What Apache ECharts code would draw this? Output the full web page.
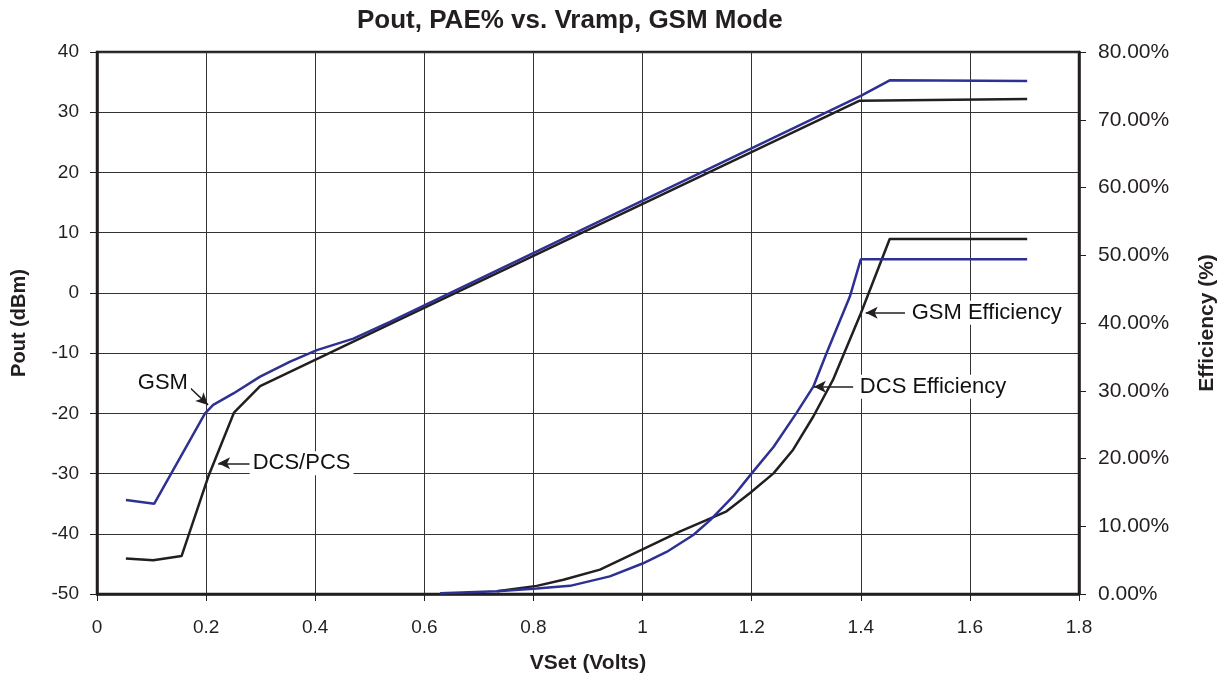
<!DOCTYPE html>
<html>
<head>
<meta charset="utf-8">
<script src="https://cdn.jsdelivr.net/npm/echarts@6/dist/echarts.min.js"></script>
<style>html,body{margin:0;padding:0;background:#fff}#c{width:1230px;height:682px}</style>
</head>
<body>
<div id="c"></div>
<script>
// Pout (dBm) vs VSet
const gsmPoutX = [0.053, 0.105, 0.198, 0.213, 0.25, 0.299, 0.354, 0.403, 0.47, 0.537, 1.4, 1.453, 1.705];
const gsmPoutY = [-34.4, -35.0, -20.0, -18.6, -16.7, -13.9, -11.4, -9.5, -7.6, -4.8, 32.7, 35.3, 35.2];
const dcsPoutX = [0.053, 0.103, 0.155, 0.204, 0.251, 0.299, 0.537, 1.397, 1.705];
const dcsPoutY = [-44.1, -44.4, -43.7, -30.5, -19.9, -15.5, -5.2, 31.9, 32.2];
// Efficiency (%) vs VSet
const gsmEffX = [0.733, 0.806, 0.855, 0.922, 1.0, 1.068, 1.117, 1.154, 1.197, 1.24, 1.276, 1.313, 1.349, 1.40, 1.453, 1.705];
const gsmEffY = [0.4, 1.2, 2.1, 3.6, 6.6, 9.2, 10.9, 12.2, 14.9, 17.8, 21.3, 26.2, 31.6, 41.4, 52.4, 52.4];
const dcsEffX = [0.629, 0.733, 0.806, 0.867, 0.94, 1.0, 1.044, 1.093, 1.124, 1.166, 1.2, 1.24, 1.282, 1.313, 1.337, 1.38, 1.40, 1.705];
const dcsEffY = [0.1, 0.4, 0.8, 1.2, 2.6, 4.5, 6.2, 8.7, 10.9, 14.4, 17.8, 21.7, 26.7, 30.6, 35.5, 43.9, 49.4, 49.4];
// Annotations (data coordinates)
const poutNotes = [
  {text: 'GSM', at: [0.174, -15.0], pos: 'left', from: [0.171, -15.8], to: [0.2035, -18.6]},
  {text: 'DCS/PCS', at: [0.278, -28.3], pos: 'right', from: [0.280, -28.3], to: [0.222, -28.3]}
];
const effNotes = [
  {text: 'GSM Efficiency', at: [1.486, 41.5], pos: 'right', from: [1.481, 41.5], to: [1.409, 41.5]},
  {text: 'DCS Efficiency', at: [1.391, 30.6], pos: 'right', from: [1.386, 30.6], to: [1.314, 30.6]}
];

const zip = (xs, ys) => xs.map((x, i) => [x, ys[i]]);
const BLUE = '#2e3192', BLACK = '#231f20', FONT = '"Liberation Sans", Arial, sans-serif';

function noteSeries(notes, yIdx) {
  return [{
    type: 'line', yAxisIndex: yIdx, data: [], silent: true, showSymbol: false, lineStyle: {width: 0},
    markPoint: {silent: true, animation: false, symbol: 'circle', symbolSize: 0,
      itemStyle: {color: '#000', opacity: 1},
      data: notes.map(n => ({coord: n.at, label: {position: n.pos, formatter: n.text}})),
      label: {show: true, color: '#111', opacity: 1, fontSize: 22, fontFamily: FONT,
        backgroundColor: '#fff', padding: [1, 3, 1, 3], distance: 1}},
    markLine: {silent: true, symbol: ['none', 'arrow'], symbolSize: [9, 12], animation: false,
      lineStyle: {color: BLACK, width: 1.5, type: 'solid', opacity: 1}, label: {show: false},
      data: notes.map(n => [{coord: n.from}, {coord: n.to}])}
  }];
}

const chart = echarts.init(document.getElementById('c'));
chart.setOption({
  animation: false,
  title: {text: 'Pout, PAE% vs. Vramp, GSM Mode', left: 352, top: 3,
    textStyle: {fontFamily: FONT, fontSize: 26, fontWeight: 'bold', color: BLACK}},
  grid: {left: 97, right: 151, top: 52, bottom: 88, show: true, borderColor: BLACK, borderWidth: 2.5, backgroundColor: '#fff'},
  xAxis: {type: 'value', min: 0, max: 1.8, interval: 0.2,
    name: 'VSet (Volts)', nameLocation: 'middle', nameGap: 59,
    nameTextStyle: {fontFamily: FONT, fontSize: 21, fontWeight: 'bold', color: BLACK},
    axisLine: {show: true, onZero: false, lineStyle: {color: BLACK, width: 2.5}},
    axisTick: {show: true, length: 7, lineStyle: {color: BLACK, width: 1}},
    axisLabel: {formatter: v => String(+v.toFixed(1)), fontFamily: FONT, fontSize: 19, color: BLACK, margin: 24},
    splitLine: {show: true, lineStyle: {color: '#333', width: 1}}},
  yAxis: [{type: 'value', min: -50, max: 40, interval: 10, position: 'left',
    name: 'Pout (dBm)', nameLocation: 'middle', nameGap: 68, nameRotate: 90,
    nameTextStyle: {fontFamily: FONT, fontSize: 20, fontWeight: 'bold', color: BLACK},
    axisLine: {show: true, lineStyle: {color: BLACK, width: 2.5}},
    axisTick: {show: true, length: 7, lineStyle: {color: BLACK, width: 1}},
    axisLabel: {fontFamily: FONT, fontSize: 19, color: BLACK, margin: 18},
    splitLine: {show: true, lineStyle: {color: '#333', width: 1}}},
   {type: 'value', min: 0, max: 80, interval: 10, position: 'right',
    name: 'Efficiency (%)', nameLocation: 'middle', nameGap: 118, nameRotate: 90,
    nameTextStyle: {fontFamily: FONT, fontSize: 21, fontWeight: 'bold', color: BLACK},
    axisLine: {show: true, lineStyle: {color: BLACK, width: 2.5}},
    axisTick: {show: true, length: 7, lineStyle: {color: BLACK, width: 1}},
    axisLabel: {formatter: v => v.toFixed(2) + '%', fontFamily: FONT, fontSize: 21, color: BLACK, margin: 19},
    splitLine: {show: false}}],
  series: [
    {name: 'GSM', type: 'line', yAxisIndex: 0, data: zip(gsmPoutX, gsmPoutY), showSymbol: false, lineStyle: {color: BLUE, width: 2.5}, z: 3},
    {name: 'DCS/PCS', type: 'line', yAxisIndex: 0, data: zip(dcsPoutX, dcsPoutY), showSymbol: false, lineStyle: {color: BLACK, width: 2.5}, z: 2},
    {name: 'GSM Efficiency', type: 'line', yAxisIndex: 1, data: zip(gsmEffX, gsmEffY), showSymbol: false, lineStyle: {color: BLACK, width: 2.5}, z: 2},
    {name: 'DCS Efficiency', type: 'line', yAxisIndex: 1, data: zip(dcsEffX, dcsEffY), showSymbol: false, lineStyle: {color: BLUE, width: 2.5}, z: 3},
    ...noteSeries(poutNotes, 0),
    ...noteSeries(effNotes, 1)
  ]
});
</script>
</body>
</html>
